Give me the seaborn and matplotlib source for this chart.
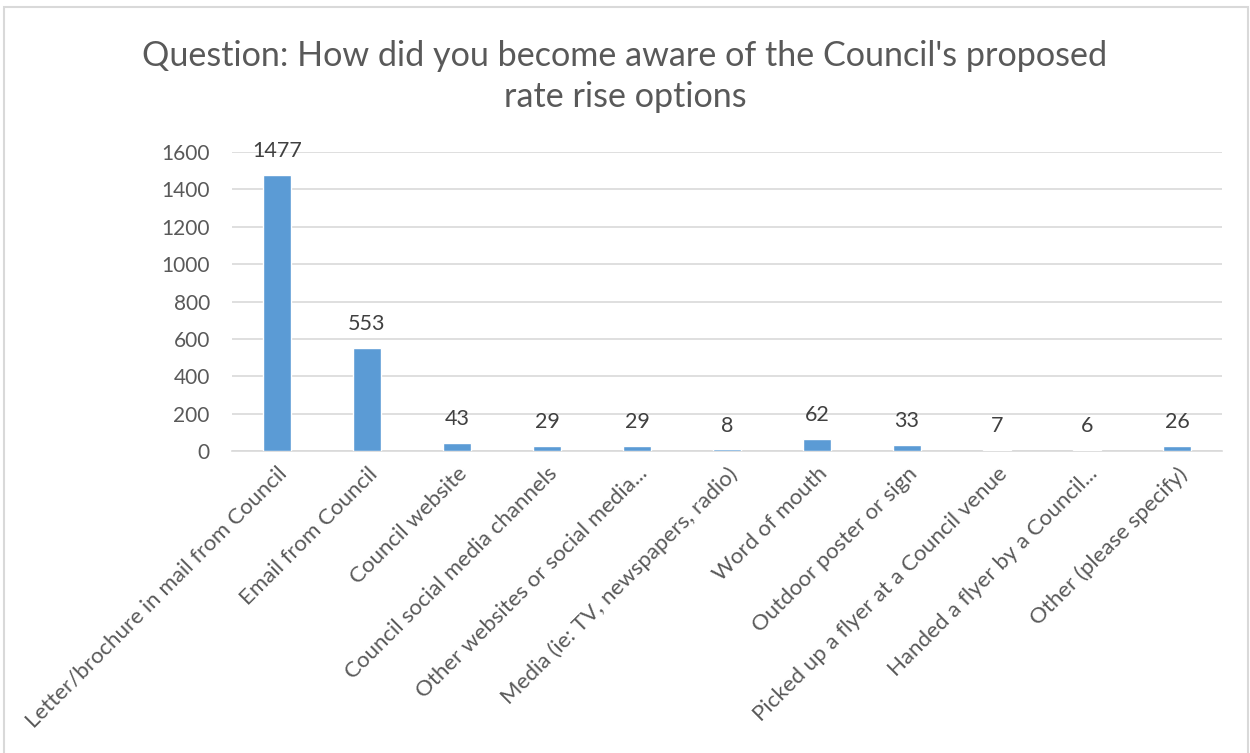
import matplotlib
matplotlib.use("Agg")
import matplotlib.pyplot as plt
import seaborn as sns
import pandas as pd
from matplotlib.patches import Rectangle

categories = [
    "Letter/brochure in mail from Council",
    "Email from Council",
    "Council website",
    "Council social media channels",
    "Other websites or social media...",
    "Media (ie: TV, newspapers, radio)",
    "Word of mouth",
    "Outdoor poster or sign",
    "Picked up a flyer at a Council venue",
    "Handed a flyer by a Council...",
    "Other (please specify)",
]
counts = [1477, 553, 43, 29, 29, 8, 62, 33, 7, 6, 26]
y_ticks = [0, 200, 400, 600, 800, 1000, 1200, 1400, 1600]
title = "Question: How did you become aware of the Council's proposed\nrate rise options"

sns.set_theme(style="white")
plt.rcParams["font.family"] = ["Lato", "DejaVu Sans"]

df = pd.DataFrame({"source": categories, "count": counts})

fig = plt.figure(figsize=(12.5, 7.53), dpi=100)
ax = fig.add_axes([0.1856, 0.4011, 0.792, 0.397])

sns.barplot(data=df, x="source", y="count", color="#5B9BD5", width=0.31,
            saturation=1, ax=ax, zorder=3)

ax.set_ylim(0, 1600)
ax.set_yticks(y_ticks)
ax.set_yticklabels([str(t) for t in y_ticks])
ax.set_xlim(-0.5, len(categories) - 0.5)
ax.yaxis.grid(True, color="#D9D9D9", linewidth=1.2, zorder=0)
ax.xaxis.grid(False)
for side in ["left", "right", "top"]:
    ax.spines[side].set_visible(False)
ax.spines["bottom"].set_color("#D9D9D9")
ax.spines["bottom"].set_linewidth(1.2)
ax.tick_params(axis="both", length=0)
ax.tick_params(axis="y", labelsize=15, labelcolor="#595959", pad=16)
ax.tick_params(axis="x", labelsize=16, labelcolor="#595959", pad=9)
plt.setp(ax.get_xticklabels(), rotation=45, ha="right", rotation_mode="anchor")
ax.set_xlabel("")
ax.set_ylabel("")

for container in ax.containers:
    ax.bar_label(container, labels=[str(v) for v in counts], padding=10,
                 fontsize=15.5, color="#404040")

fig.text(0.5, 0.899, title, ha="center", va="center", fontsize=24.6,
         color="#595959", linespacing=1.35)

# chart frame
fig.patches.append(Rectangle((0.0032, -0.02), 0.9952, 1.0107, transform=fig.transFigure,
                             fill=False, edgecolor="#D9D9D9", linewidth=1.5))

fig.savefig("out.png", dpi=100, facecolor="white")
